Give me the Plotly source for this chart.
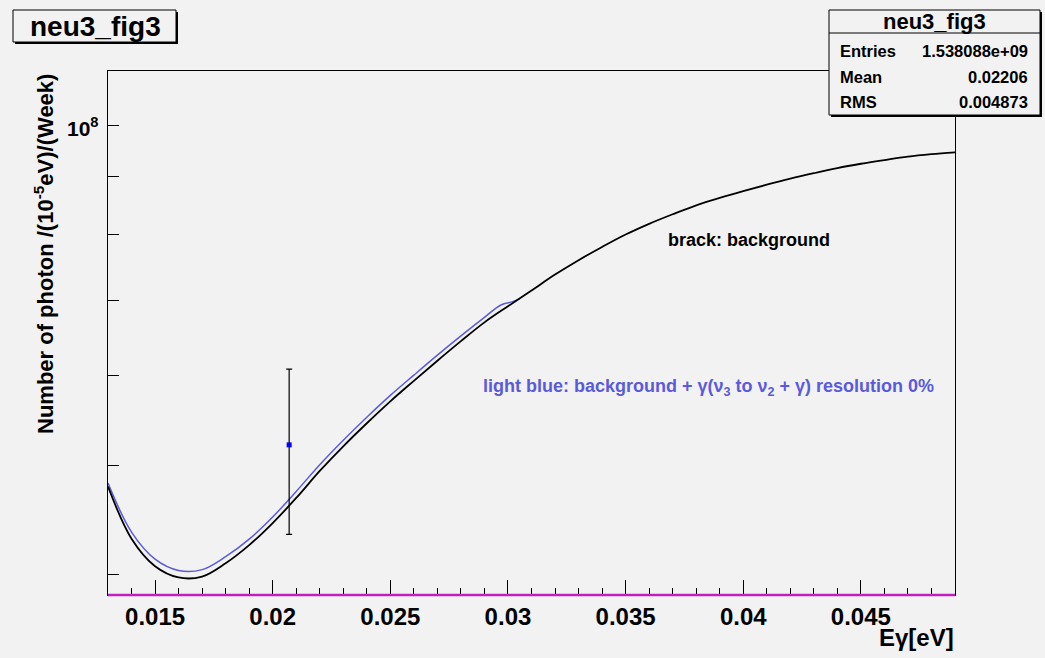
import plotly.graph_objects as go

# Background spectrum (black curve), sampled every 1 meV
bg_energy = [0.013, 0.014, 0.015, 0.016, 0.017, 0.018, 0.019, 0.020, 0.021, 0.022,
             0.023, 0.024, 0.025, 0.026, 0.027, 0.028, 0.029, 0.030, 0.031, 0.032,
             0.033, 0.034, 0.035, 0.036, 0.037, 0.038, 0.039, 0.040, 0.041, 0.042,
             0.043, 0.044, 0.045, 0.046, 0.047, 0.048, 0.049]
bg_counts = [4.785e7, 4.302e7, 4.067e7, 3.975e7, 3.982e7, 4.092e7, 4.246e7, 4.442e7,
             4.675e7, 4.940e7, 5.195e7, 5.445e7, 5.694e7, 5.937e7, 6.186e7, 6.438e7,
             6.689e7, 6.913e7, 7.138e7, 7.374e7, 7.594e7, 7.802e7, 8.002e7, 8.179e7,
             8.340e7, 8.494e7, 8.624e7, 8.744e7, 8.858e7, 8.967e7, 9.068e7, 9.164e7,
             9.245e7, 9.315e7, 9.380e7, 9.427e7, 9.464e7]

# Background + gamma(nu3 -> nu2 + gamma) signal (light blue curve)
sig_energy = [0.013, 0.014, 0.015, 0.016, 0.017, 0.018, 0.019, 0.020, 0.021, 0.022,
              0.023, 0.024, 0.025, 0.026, 0.027, 0.028, 0.029, 0.0297, 0.0302, 0.0305]
sig_counts = [4.819e7, 4.360e7, 4.126e7, 4.032e7, 4.039e7, 4.147e7, 4.298e7, 4.497e7,
              4.738e7, 5.003e7, 5.259e7, 5.512e7, 5.763e7, 6.006e7, 6.256e7, 6.507e7,
              6.758e7, 6.931e7, 6.978e7, 7.020e7]

# Single measured point with its error
meas_energy = [0.0207]
meas_counts = [5.21e7]
meas_error = [8.7e6]

# Axis ticks
x_tickvals = [0.015, 0.020, 0.025, 0.030, 0.035, 0.040, 0.045]
x_ticktext = ["0.015", "0.02", "0.025", "0.03", "0.035", "0.04", "0.045"]
y_tickvals = [4e7, 5e7, 6e7, 7e7, 8e7, 9e7, 1e8]

# Stats box contents
stats_title = "neu3_fig3"
stats_labels = ["Entries", "Mean", "RMS"]
stats_values = ["1.538088e+09", "0.02206", "0.004873"]

W, H = 1045, 658
L, R, T, B = 108, 955, 71, 595
BG = "#f2f2f2"
BLUE = "#5a5ade"
FONT = "Liberation Sans, Arial, sans-serif"


def px(xp):
    return (xp - L) / (R - L)


def py(yp):
    return (B - yp) / (B - T)


fig = go.Figure()

fig.add_trace(go.Scatter(
    x=sig_energy, y=sig_counts, mode="lines",
    line=dict(color=BLUE, width=1.5, shape="spline", smoothing=1.0),
    showlegend=False, hoverinfo="skip"))

fig.add_trace(go.Scatter(
    x=bg_energy, y=bg_counts, mode="lines",
    line=dict(color="black", width=1.8, shape="spline", smoothing=1.0),
    showlegend=False, hoverinfo="skip"))

fig.add_trace(go.Scatter(
    x=meas_energy, y=meas_counts, mode="markers",
    marker=dict(color="#0000ff", symbol="square", size=5),
    error_y=dict(type="data", array=meas_error, color="black", thickness=1.2, width=3),
    showlegend=False, hoverinfo="skip"))

shapes = []
# zero-content histogram sitting on the lower edge
shapes.append(dict(type="line", xref="paper", yref="paper", x0=0, x1=1, y0=0, y1=0,
                   line=dict(color="#c020c0", width=2.5), layer="above"))


def pave(x0, y0, x1, y1, shadow=2):
    shapes.append(dict(type="rect", xref="paper", yref="paper",
                       x0=px(x0 + shadow), x1=px(x1 + shadow),
                       y0=py(y0 + shadow), y1=py(y1 + shadow),
                       fillcolor="black", line=dict(width=0), layer="above"))
    shapes.append(dict(type="rect", xref="paper", yref="paper",
                       x0=px(x0), x1=px(x1), y0=py(y0), y1=py(y1),
                       fillcolor=BG, line=dict(color="black", width=1), layer="above"))


# title pave
pave(13, 10, 176, 42)
# stats pave
pave(829, 10, 1040, 115)
shapes.append(dict(type="line", xref="paper", yref="paper",
                   x0=px(829), x1=px(1040), y0=py(33), y1=py(33),
                   line=dict(color="black", width=1), layer="above"))

ann = []
ann.append(dict(x=px(95), y=py(26), xref="paper", yref="paper", text="<b>neu3_fig3</b>",
                showarrow=False, xanchor="center", yanchor="middle",
                font=dict(family=FONT, size=28, color="black")))
ann.append(dict(x=px(934.5), y=py(21.5), xref="paper", yref="paper",
                text="<b>%s</b>" % stats_title,
                showarrow=False, xanchor="center", yanchor="middle",
                font=dict(family=FONT, size=22, color="black")))
row_y = [51, 77, 102]
for lab, val, yy in zip(stats_labels, stats_values, row_y):
    ann.append(dict(x=px(838), y=py(yy), xref="paper", yref="paper", text="<b>%s</b>" % lab,
                    showarrow=False, xanchor="left", yanchor="middle",
                    font=dict(family=FONT, size=16.5, color="black")))
    ann.append(dict(x=px(1030), y=py(yy), xref="paper", yref="paper", text="<b>%s</b>" % val,
                    showarrow=False, xanchor="right", yanchor="middle",
                    font=dict(family=FONT, size=16.5, color="black")))

# y axis label 10^8
ann.append(dict(x=px(101), y=py(127), xref="paper", yref="paper",
                text="<b>10<sup>8</sup></b>", showarrow=False,
                xanchor="right", yanchor="middle",
                font=dict(family=FONT, size=21, color="black")))

# axis titles
ann.append(dict(x=px(44), y=py(254), xref="paper", yref="paper",
                text="<b>Number of photon /(10<sup>-5</sup>eV)/(Week)</b>",
                showarrow=False, textangle=-90, xanchor="center", yanchor="middle",
                font=dict(family=FONT, size=22, color="black")))
ann.append(dict(x=px(956), y=py(637), xref="paper", yref="paper",
                text="<b>E\u03b3[eV]</b>", showarrow=False,
                xanchor="right", yanchor="middle",
                font=dict(family=FONT, size=24, color="black")))

# curve descriptions
ann.append(dict(x=px(666), y=py(240), xref="paper", yref="paper",
                text="<b>brack: background</b>", showarrow=False,
                xanchor="left", yanchor="middle",
                font=dict(family=FONT, size=18, color="black")))
ann.append(dict(x=px(481), y=py(387), xref="paper", yref="paper",
                text="<b>light blue: background + \u03b3(\u03bd<sub>3</sub> to \u03bd<sub>2</sub> + \u03b3) resolution 0%</b>",
                showarrow=False, xanchor="left", yanchor="middle",
                font=dict(family=FONT, size=18, color=BLUE)))

fig.update_layout(
    width=W, height=H, autosize=False,
    margin=dict(l=L, r=W - R, t=T, b=H - B, pad=0),
    paper_bgcolor=BG, plot_bgcolor=BG,
    shapes=shapes, annotations=ann,
    xaxis=dict(range=[0.013, 0.049], tickmode="array", tickvals=x_tickvals,
               ticktext=["<b>%s</b>" % t for t in x_ticktext],
               ticks="inside", ticklen=15, tickcolor="black", tickwidth=1,
               minor=dict(dtick=0.001, tick0=0.013, ticks="inside", ticklen=7.5,
                          tickcolor="black", tickwidth=1),
               showgrid=False, zeroline=False,
               showline=True, mirror=True, linecolor="black", linewidth=1,
               tickfont=dict(family=FONT, size=24, color="black")),
    yaxis=dict(type="log", range=[7.5838, 8.0481], tickmode="array",
               tickvals=y_tickvals, ticktext=[""] * len(y_tickvals),
               ticks="inside", ticklen=11, tickcolor="black", tickwidth=1,
               showgrid=False, zeroline=False,
               showline=True, mirror=True, linecolor="black", linewidth=1),
)

fig.write_html("out.html")
